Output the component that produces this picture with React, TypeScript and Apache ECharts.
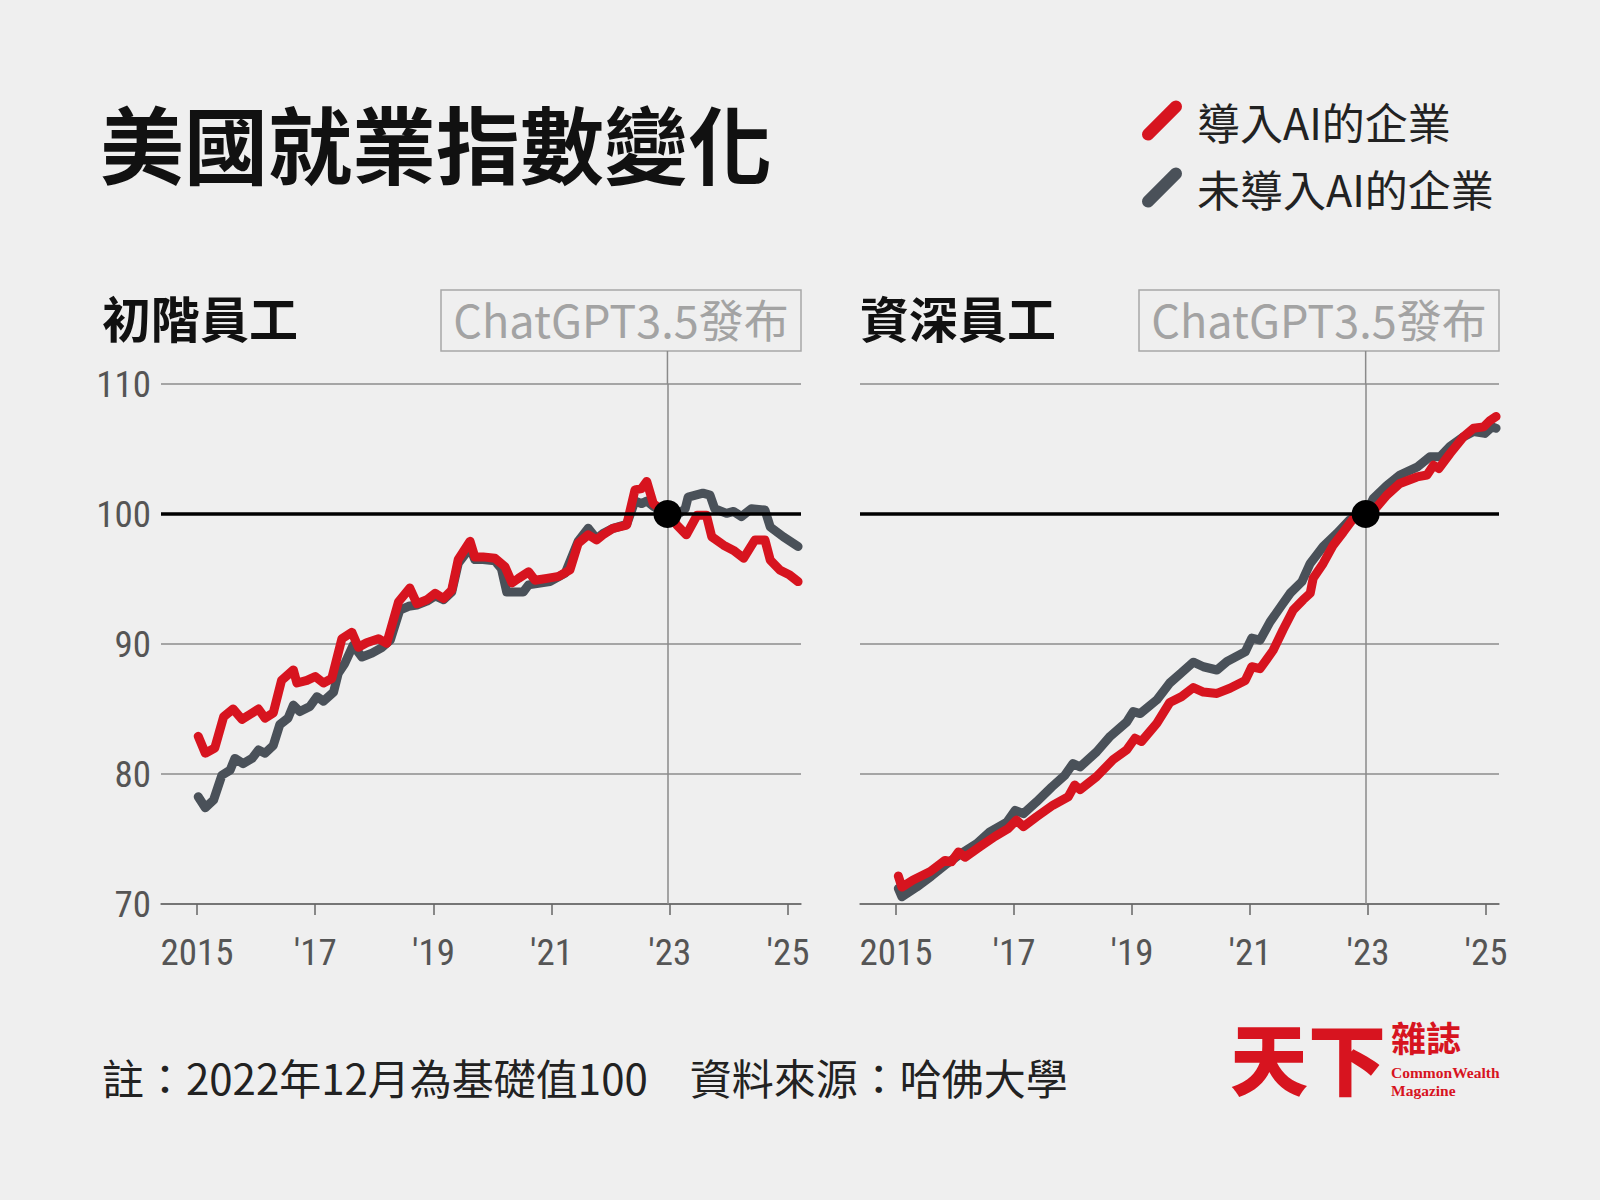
import React, { useEffect, useRef } from "react";
import * as echarts from "echarts";

// ---------------- data ----------------
const yTicks = [70, 80, 90, 100, 110];
const xTickYears = [2015, 2017, 2019, 2021, 2023, 2025];
const xTickLabels = ["2015", "'17", "'19", "'21", "'23", "'25"];
const baseValue = 100;
const releaseX = 2022.96; // ChatGPT 3.5 release (Dec 2022)

// 初階員工 — 導入AI的企業
const juniorAIX = [2015.02, 2015.14, 2015.3, 2015.45, 2015.61, 2015.76, 2015.9, 2016.04, 2016.15, 2016.29, 2016.43, 2016.63, 2016.69, 2016.86, 2017.0, 2017.14, 2017.28, 2017.45, 2017.62, 2017.73, 2017.87, 2018.07, 2018.21, 2018.41, 2018.6, 2018.72, 2018.89, 2019.03, 2019.17, 2019.31, 2019.42, 2019.62, 2019.7, 2019.84, 2020.04, 2020.21, 2020.33, 2020.44, 2020.61, 2020.72, 2020.92, 2021.12, 2021.31, 2021.45, 2021.62, 2021.76, 2021.87, 2022.04, 2022.27, 2022.41, 2022.52, 2022.61, 2022.72, 2022.96, 2023.12, 2023.28, 2023.46, 2023.62, 2023.71, 2023.91, 2024.08, 2024.25, 2024.44, 2024.61, 2024.7, 2024.86, 2025.03, 2025.17];
const juniorAIY = [82.9, 81.6, 82.0, 84.4, 85.0, 84.2, 84.6, 85.0, 84.3, 84.7, 87.2, 88.0, 87.0, 87.2, 87.5, 87.0, 87.35, 90.4, 90.9, 89.75, 90.1, 90.4, 90.05, 93.25, 94.3, 93.1, 93.4, 93.9, 93.5, 94.15, 96.5, 97.9, 96.7, 96.7, 96.6, 95.95, 94.7, 95.05, 95.55, 94.9, 95.05, 95.2, 95.7, 97.75, 98.4, 98.0, 98.4, 98.9, 99.15, 101.85, 101.95, 102.5, 100.8, 100.0, 99.15, 98.4, 99.9, 99.9, 98.25, 97.6, 97.2, 96.6, 98.0, 98.0, 96.45, 95.7, 95.3, 94.8];

// 初階員工 — 未導入AI的企業
const juniorOtherX = [2015.02, 2015.14, 2015.28, 2015.42, 2015.56, 2015.64, 2015.78, 2015.93, 2016.04, 2016.15, 2016.29, 2016.4, 2016.54, 2016.63, 2016.74, 2016.91, 2017.03, 2017.14, 2017.31, 2017.39, 2017.5, 2017.64, 2017.79, 2017.96, 2018.12, 2018.27, 2018.43, 2018.58, 2018.72, 2018.89, 2019.03, 2019.17, 2019.31, 2019.42, 2019.62, 2019.7, 2019.84, 2020.04, 2020.15, 2020.24, 2020.52, 2020.61, 2020.97, 2021.23, 2021.45, 2021.62, 2021.76, 2021.87, 2022.04, 2022.27, 2022.41, 2022.52, 2022.61, 2022.72, 2022.96, 2023.12, 2023.26, 2023.31, 2023.56, 2023.68, 2023.76, 2023.96, 2024.08, 2024.21, 2024.38, 2024.61, 2024.7, 2024.92, 2025.17];
const juniorOtherY = [78.25, 77.4, 78.0, 79.9, 80.3, 81.2, 80.8, 81.2, 81.85, 81.6, 82.2, 83.8, 84.3, 85.3, 84.8, 85.2, 85.95, 85.6, 86.3, 87.75, 88.5, 89.9, 89.0, 89.3, 89.7, 90.3, 92.6, 92.9, 93.0, 93.3, 93.7, 93.4, 94.0, 96.2, 97.4, 96.5, 96.5, 96.4, 95.8, 94.0, 94.0, 94.55, 94.8, 95.45, 97.9, 98.9, 98.1, 98.5, 98.9, 99.2, 101.0, 100.8, 101.0, 100.6, 100.0, 99.9, 100.4, 101.3, 101.6, 101.45, 100.4, 100.05, 100.2, 99.8, 100.4, 100.3, 99.0, 98.25, 97.5];

// 資深員工 — 導入AI的企業
const seniorAIX = [2015.04, 2015.1, 2015.29, 2015.58, 2015.83, 2015.94, 2016.06, 2016.17, 2016.42, 2016.68, 2016.9, 2017.04, 2017.16, 2017.38, 2017.66, 2017.92, 2018.03, 2018.12, 2018.4, 2018.68, 2018.91, 2019.05, 2019.16, 2019.42, 2019.64, 2019.84, 2020.04, 2020.21, 2020.44, 2020.66, 2020.92, 2021.03, 2021.17, 2021.39, 2021.56, 2021.73, 2021.9, 2022.02, 2022.07, 2022.24, 2022.41, 2022.58, 2022.75, 2022.96, 2023.15, 2023.32, 2023.54, 2023.83, 2024.0, 2024.11, 2024.2, 2024.39, 2024.62, 2024.79, 2024.96, 2025.07, 2025.17];
const seniorAIY = [72.15, 71.3, 71.85, 72.5, 73.35, 73.25, 74.0, 73.6, 74.4, 75.2, 75.8, 76.45, 75.95, 76.7, 77.6, 78.25, 79.15, 78.8, 79.8, 81.1, 81.85, 82.75, 82.5, 83.9, 85.5, 85.95, 86.65, 86.3, 86.2, 86.6, 87.2, 88.25, 88.1, 89.5, 91.1, 92.6, 93.4, 93.9, 95.05, 96.2, 97.6, 98.6, 99.65, 100.0, 100.55, 101.45, 102.35, 102.85, 103.0, 103.75, 103.5, 104.65, 105.95, 106.6, 106.7, 107.2, 107.5];

// 資深員工 — 未導入AI的企業
const seniorOtherX = [2015.04, 2015.1, 2015.35, 2015.6, 2015.86, 2016.11, 2016.37, 2016.59, 2016.88, 2017.02, 2017.16, 2017.38, 2017.64, 2017.86, 2018.0, 2018.12, 2018.4, 2018.63, 2018.91, 2019.02, 2019.14, 2019.42, 2019.64, 2019.84, 2020.04, 2020.21, 2020.44, 2020.61, 2020.92, 2021.03, 2021.17, 2021.34, 2021.54, 2021.68, 2021.88, 2022.02, 2022.24, 2022.47, 2022.69, 2022.96, 2023.09, 2023.32, 2023.54, 2023.83, 2024.05, 2024.22, 2024.39, 2024.62, 2024.79, 2024.98, 2025.1, 2025.17];
const seniorOtherY = [71.2, 70.55, 71.3, 72.15, 73.1, 73.9, 74.65, 75.55, 76.3, 77.2, 76.95, 77.85, 79.0, 79.9, 80.8, 80.55, 81.7, 82.9, 84.0, 84.8, 84.65, 85.7, 87.0, 87.8, 88.6, 88.25, 88.0, 88.65, 89.4, 90.45, 90.3, 91.7, 93.0, 93.9, 94.8, 96.2, 97.5, 98.5, 99.55, 100.0, 101.2, 102.2, 103.0, 103.6, 104.4, 104.4, 105.2, 105.95, 106.35, 106.2, 106.7, 106.6];

// ---------------- style ----------------
const W = 1600;
const H = 1200;
const BG = "#efefef";
const RED = "#d7141f";
const GRAY = "#4a5159";
const CJK = '"Noto Sans CJK TC", "Noto Sans CJK SC", sans-serif';
const NARROW = '"Liberation Sans Narrow", "Roboto Condensed", "DejaVu Sans Condensed", Roboto, sans-serif';
const AI_NAME = "導入AI的企業";
const OTHER_NAME = "未導入AI的企業";
const PANEL_TITLES = ["初階員工", "資深員工"];
const RELEASE_TEXT = "ChatGPT3.5發布";
const TITLE = "美國就業指數變化";
const NOTE = "註：2022年12月為基礎值100　資料來源：哈佛大學";

const capsule =
  "path://M10.24,38.24 L38.24,10.24 A6,6 0 0,0 29.76,1.76 L1.76,29.76 A6,6 0 0,0 10.24,38.24 Z";

const zip = (xs: number[], ys: number[]) => xs.map((x, i) => [x, ys[i]]);

const grids = [
  { left: 161, top: 384, width: 640, height: 520 },
  { left: 860, top: 384, width: 639, height: 520 },
];

function makeXAxis(gridIndex: number) {
  return {
    type: "value",
    gridIndex,
    min: 2014.39,
    max: 2025.22,
    axisLine: { show: true, lineStyle: { color: "#666", width: 1.5 } },
    axisTick: {
      show: true,
      customValues: xTickYears,
      length: 11,
      lineStyle: { color: "#666", width: 1.5 },
    },
    axisLabel: {
      customValues: xTickYears,
      formatter: (v: number) => {
        const i = xTickYears.indexOf(Math.round(v));
        return i >= 0 ? xTickLabels[i] : "";
      },
      margin: 30,
      fontSize: 37,
      fontFamily: NARROW,
      color: "#555",
    },
    splitLine: { show: false },
  };
}

function makeYAxis(gridIndex: number, showLabels: boolean) {
  return {
    type: "value",
    gridIndex,
    min: yTicks[0],
    max: yTicks[yTicks.length - 1],
    interval: 10,
    axisLine: { show: false },
    axisTick: { show: false },
    axisLabel: {
      show: showLabels,
      margin: 10,
      fontSize: 37,
      fontFamily: NARROW,
      color: "#555",
    },
    splitLine: { show: true, lineStyle: { color: "#8c8c8c", width: 1.5 } },
  };
}

function lineSeries(name: string, color: string, data: number[][], idx: number, z: number, withMarks: boolean) {
  const s: any = {
    type: "line",
    name,
    xAxisIndex: idx,
    yAxisIndex: idx,
    data,
    showSymbol: false,
    symbol: "none",
    z,
    itemStyle: { color },
    lineStyle: { color, width: 9, cap: "round", join: "round" },
    emphasis: { disabled: true },
  };
  if (withMarks) {
    s.markLine = {
      silent: true,
      symbol: "none",
      label: { show: false },
      animation: false,
      data: [
        { yAxis: baseValue, lineStyle: { color: "#000", width: 3.5, type: "solid" } },
        { xAxis: releaseX, lineStyle: { color: "#8a8a8a", width: 1.5, type: "solid" } },
      ],
    };
  }
  return s;
}

function dotSeries(idx: number) {
  return {
    type: "scatter",
    xAxisIndex: idx,
    yAxisIndex: idx,
    data: [[releaseX, baseValue]],
    symbol: "circle",
    symbolSize: 28,
    itemStyle: { color: "#000", opacity: 1 },
    emphasis: { disabled: true },
    z: 10,
    silent: true,
  };
}

const option: any = {
  animation: false,
  backgroundColor: BG,
  grid: grids,
  xAxis: [makeXAxis(0), makeXAxis(1)],
  yAxis: [makeYAxis(0, true), makeYAxis(1, false)],
  legend: {
    data: [AI_NAME, OTHER_NAME],
    orient: "vertical",
    left: 1137,
    top: 94,
    icon: capsule,
    itemWidth: 40,
    itemHeight: 40,
    itemGap: 24,
    selectedMode: false,
    textStyle: {
      fontSize: 43,
      color: "#222",
      fontFamily: CJK,
      padding: [0, 0, 0, 10],
    },
  },
  series: [
    lineSeries(OTHER_NAME, GRAY, zip(juniorOtherX, juniorOtherY), 0, 2, true),
    lineSeries(AI_NAME, RED, zip(juniorAIX, juniorAIY), 0, 3, false),
    lineSeries(OTHER_NAME, GRAY, zip(seniorOtherX, seniorOtherY), 1, 2, true),
    lineSeries(AI_NAME, RED, zip(seniorAIX, seniorAIY), 1, 3, false),
    dotSeries(0),
    dotSeries(1),
  ],
};

export default function App() {
  const ref = useRef<HTMLDivElement>(null);
  useEffect(() => {
    if (!ref.current) return;
    const chart = echarts.init(ref.current, null, { renderer: "svg", width: W, height: H });
    chart.setOption(option);

    const graphics: any[] = [
      {
        type: "text",
        x: 100,
        y: 141,
        style: { text: TITLE, fill: "#111", font: `bold 84px ${CJK}`, align: "left", verticalAlign: "middle" },
      },
      {
        type: "text",
        x: 102,
        y: 1076,
        style: { text: NOTE, fill: "#222", font: `42px ${CJK}`, align: "left", verticalAlign: "middle" },
      },
      // logo
      {
        type: "text",
        x: 1230,
        y: 1056,
        style: { text: "天下", fill: RED, font: `900 78px ${CJK}`, align: "left", verticalAlign: "middle" },
      },
      {
        type: "text",
        x: 1391,
        y: 1036,
        style: { text: "雜誌", fill: RED, font: `bold 35px ${CJK}`, align: "left", verticalAlign: "middle" },
      },
      {
        type: "text",
        x: 1391,
        y: 1072,
        style: { text: "CommonWealth", fill: RED, font: 'bold 15.5px "Liberation Serif", serif', align: "left", verticalAlign: "middle" },
      },
      {
        type: "text",
        x: 1391,
        y: 1090,
        style: { text: "Magazine", fill: RED, font: 'bold 15.5px "Liberation Serif", serif', align: "left", verticalAlign: "middle" },
      },
    ];

    [0, 1].forEach((i) => {
      const g = grids[i];
      const xr = chart.convertToPixel({ xAxisIndex: i }, releaseX) as number;
      const yTop = chart.convertToPixel({ yAxisIndex: i }, yTicks[yTicks.length - 1]) as number;
      const boxW = 360;
      const boxRight = g.left + g.width;
      const boxTop = 290;
      const boxH = 61;
      graphics.push(
        {
          type: "text",
          x: i === 0 ? 102 : 860,
          y: 316,
          style: { text: PANEL_TITLES[i], fill: "#111", font: `bold 49px ${CJK}`, align: "left", verticalAlign: "middle" },
        },
        {
          type: "rect",
          shape: { x: boxRight - boxW, y: boxTop, width: boxW, height: boxH },
          style: { fill: "none", stroke: "#a8a8a8", lineWidth: 1.5 },
        },
        {
          type: "text",
          x: boxRight - boxW / 2,
          y: boxTop + boxH / 2 - 2,
          style: { text: RELEASE_TEXT, fill: "#a3a3a3", font: `45px ${CJK}`, align: "center", verticalAlign: "middle" },
        },
        {
          type: "line",
          shape: { x1: xr, y1: boxTop + boxH, x2: xr, y2: yTop },
          style: { stroke: "#8a8a8a", lineWidth: 1.5 },
        }
      );
    });

    chart.setOption({ graphic: graphics });
    return () => chart.dispose();
  }, []);
  return <div ref={ref} style={{ position: "fixed", left: 0, top: 0, width: W, height: H, background: BG }} />;
}
